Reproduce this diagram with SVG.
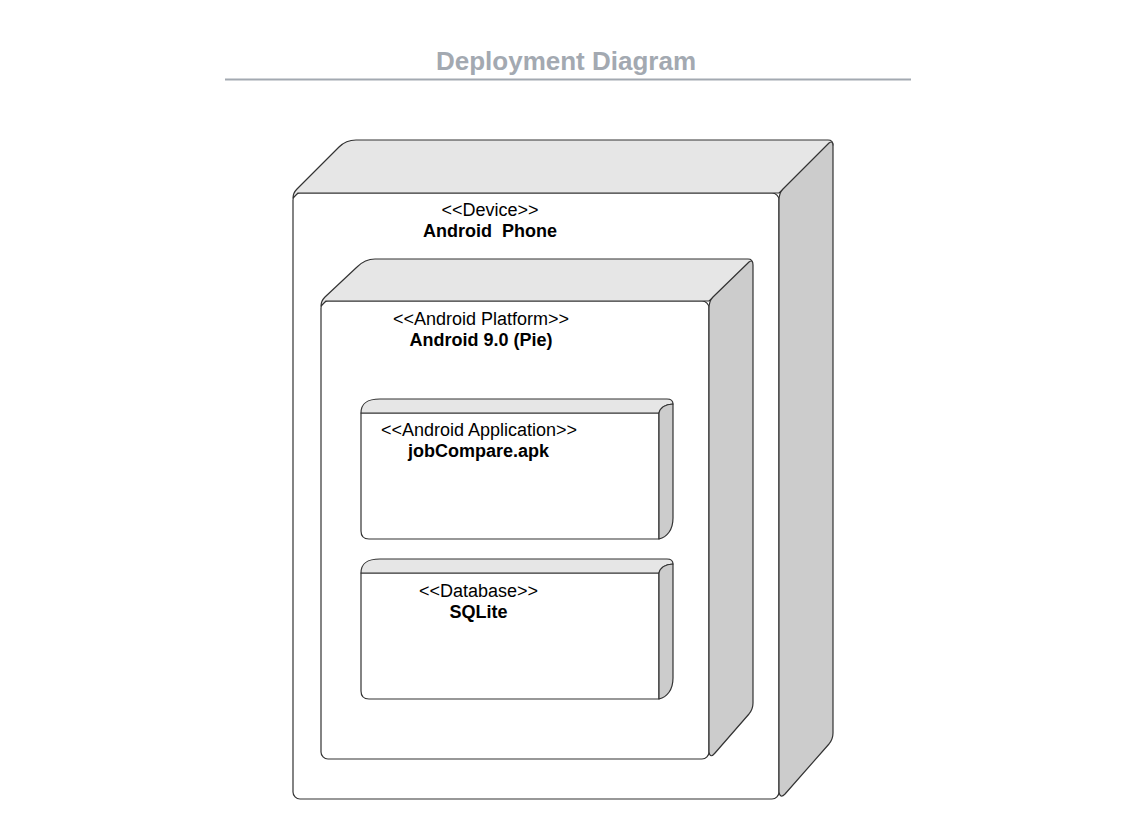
<svg xmlns="http://www.w3.org/2000/svg" width="1126" height="840" viewBox="0 0 1126 840">
<style>
.front{fill:#ffffff;stroke:#333333;stroke-width:1.2;stroke-linejoin:round}
.top{fill:#e6e6e6;stroke:#333333;stroke-width:1.2;stroke-linejoin:round}
.side{fill:#cccccc;stroke:#333333;stroke-width:1.2;stroke-linejoin:round}
.st{font-family:'Liberation Sans',Arial,sans-serif;font-size:18px;fill:#000000;text-anchor:middle}
.nm{font-family:'Liberation Sans',Arial,sans-serif;font-size:18px;font-weight:bold;fill:#000000;text-anchor:middle}
.title{font-family:'Liberation Sans',Arial,sans-serif;font-size:26px;font-weight:bold;fill:#a3a9b1;text-anchor:middle}
</style>
<rect width="1126" height="840" fill="#ffffff"/>
<g id="title">
<text class="title" x="566" y="70">Deployment Diagram</text>
<line x1="225" y1="79.5" x2="911" y2="79.5" stroke="#a3a9b1" stroke-width="2"/>
</g>
<g id="device">
<rect class="front" x="293" y="193" width="486" height="606" rx="7"/>
<path class="top" d="M293,198 Q293,193 297,189 L339,147 Q346,140 356,140 L828,140 Q833,140 833,145 L779,193 L298,193 Z"/>
<path class="side" d="M779,200 Q779,193 783,189 L829,143 Q833,140 833,146 L833,733 Q833,739 829,744 L785,794 Q780,799 779,792 Z"/>
<text class="st" x="490" y="216">&lt;&lt;Device&gt;&gt;</text>
<text class="nm" x="490" y="237" xml:space="preserve">Android  Phone</text>
</g>
<g id="platform">
<rect class="front" x="321" y="301" width="388" height="458" rx="7"/>
<path class="top" d="M321,306 Q321,301 325,297 L357,267 Q365,259 375,259 L748,259 Q753,259 752,264 L709,301 L326,301 Z"/>
<path class="side" d="M709,308 Q709,301 713,297 L749,262 Q753,259 753,265 L753,703 Q753,709 749,714 L715,753 Q710,759 709,752 Z"/>
<text class="st" x="481" y="325">&lt;&lt;Android Platform&gt;&gt;</text>
<text class="nm" x="481" y="346">Android 9.0 (Pie)</text>
</g>
<g id="application">
<path class="front" d="M361,413 L659,413 L659,539 L369,539 Q361,539 361,531 Z"/>
<path class="top" d="M361,413 C361,403 367,399 380,399 L667,399 C671,399 673,401 673,404 C665,404 660,408 659,413 Z"/>
<path class="side" d="M659,413 C660,408 665,404 673,404 L673,518 C673,530 667,537 659,539 Z"/>
<text class="st" x="479" y="436">&lt;&lt;Android Application&gt;&gt;</text>
<text class="nm" x="478.5" y="457">jobCompare.apk</text>
</g>
<g id="database">
<path class="front" d="M361,573 L659,573 L659,699 L369,699 Q361,699 361,691 Z"/>
<path class="top" d="M361,573 C361,563 367,559 380,559 L667,559 C671,559 673,561 673,564 C665,564 660,568 659,573 Z"/>
<path class="side" d="M659,573 C660,568 665,564 673,564 L673,678 C673,690 667,697 659,699 Z"/>
<text class="st" x="478.5" y="597">&lt;&lt;Database&gt;&gt;</text>
<text class="nm" x="478.5" y="618">SQLite</text>
</g>
<g id="connectors"/>
</svg>
